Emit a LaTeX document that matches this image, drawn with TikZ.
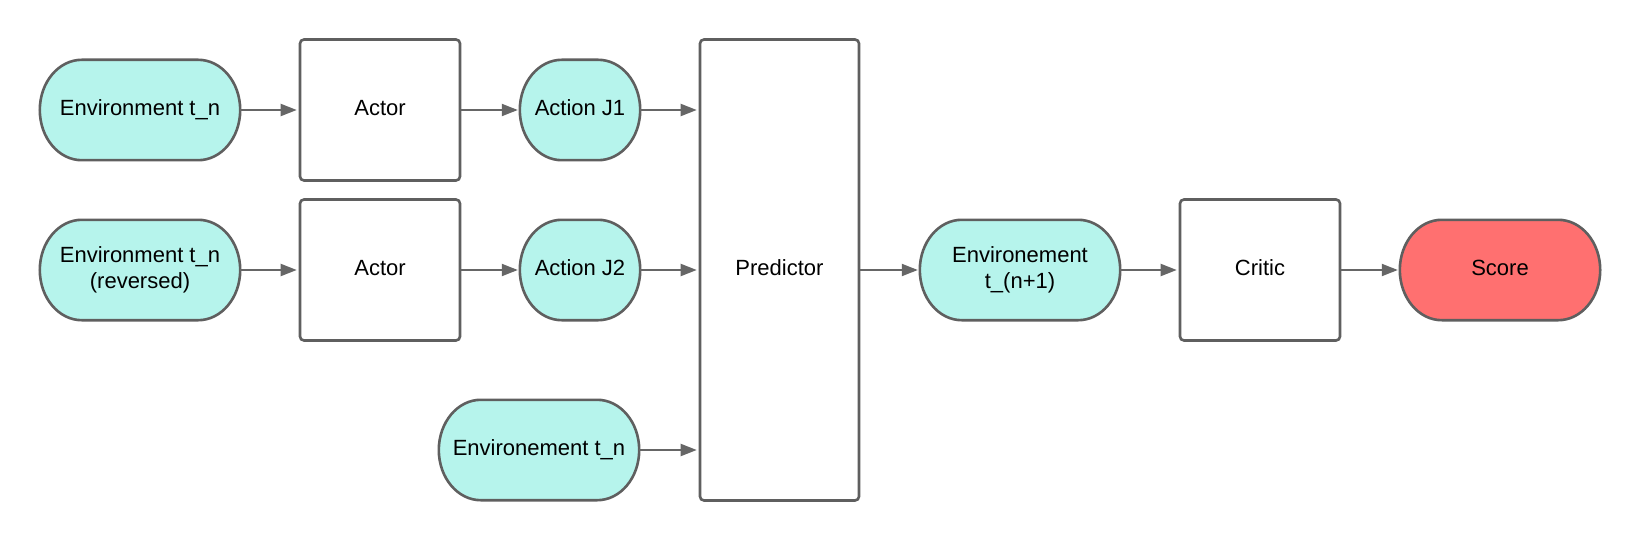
\documentclass[tikz,border=0pt]{standalone}
\usepackage{fontspec}
\setmainfont{Liberation Sans}
\usetikzlibrary{arrows.meta,calc,backgrounds}
\definecolor{envteal}{HTML}{B6F4EC}
\definecolor{scorered}{HTML}{FF7070}
\definecolor{edgegray}{HTML}{5F5F5F}
\definecolor{arrowgray}{HTML}{666666}
\tikzset{
  txt/.style={font=\fontsize{22}{26.5}\selectfont, align=center, inner sep=0pt},
  oneline/.style={text height=16pt, text depth=5.6pt},
  stadium/.style={txt, minimum width=200pt, minimum height=100pt},
  smallstadium/.style={txt, minimum width=120pt, minimum height=100pt},
  boxnode/.style={txt, draw=edgegray, line width=2.6pt, rounded corners=4pt, fill=white},
  stadiumline/.style={draw=edgegray, line width=2.6pt},
  conn/.style={draw=arrowgray, line width=2pt, -{Triangle[length=16pt,width=12pt]}, shorten >=2pt}
}
\newcommand\stadiumoutline[2]{%
  \path[stadiumline, fill=#2] let \p1=(#1.north west), \p2=(#1.south east), \n1={abs(\y1-\y2)/2} in
    (\x1+42pt,\y1) -- (\x2-42pt,\y1)
    arc[start angle=90, end angle=-90, x radius=42pt, y radius=\n1]
    -- (\x1+42pt,\y2)
    arc[start angle=270, end angle=90, x radius=42pt, y radius=\n1] -- cycle;}
\begin{document}
\begin{tikzpicture}[x=1pt,y=-1pt]
\useasboundingbox (0,0) rectangle (1640,540);
% nodes
\node[stadium, oneline] (env1) at (140,110) {Environment t\_n};
\node[boxnode, oneline, minimum width=160pt, minimum height=141pt] (actor1) at (380,110) {Actor};
\node[smallstadium, oneline] (act1) at (580,110) {Action J1};
\node[stadium] (env2) at (140,270) {Environment t\_n\\(reversed)};
\node[boxnode, oneline, minimum width=160pt, minimum height=141pt] (actor2) at (380,270) {Actor};
\node[smallstadium, oneline] (act2) at (580,270) {Action J2};
\node[stadium, oneline] (env3) at (539,450) {Environement t\_n};
\node[boxnode, oneline, minimum width=159pt, minimum height=461pt] (pred) at (779.5,270) {Predictor};
\node[stadium] (env4) at (1020,270) {Environement\\t\_(n+1)};
\node[boxnode, oneline, minimum width=160pt, minimum height=141pt] (critic) at (1260,270) {Critic};
\node[stadium, oneline] (score) at (1500,270) {Score};
% outlines of the rounded terminals
\begin{scope}[on background layer]
  \fill[white] (0,0) rectangle (1640,540);
  \stadiumoutline{env1}{envteal}
  \stadiumoutline{act1}{envteal}
  \stadiumoutline{env2}{envteal}
  \stadiumoutline{act2}{envteal}
  \stadiumoutline{env3}{envteal}
  \stadiumoutline{env4}{envteal}
  \stadiumoutline{score}{scorered}
\end{scope}
% connectors
\draw[conn] (env1.east) -- (actor1.west);
\draw[conn] (actor1.east) -- (act1.west);
\draw[conn] (act1.east) -- (act1.east -| pred.west);
\draw[conn] (env2.east) -- (actor2.west);
\draw[conn] (actor2.east) -- (act2.west);
\draw[conn] (act2.east) -- (act2.east -| pred.west);
\draw[conn] (env3.east) -- (env3.east -| pred.west);
\draw[conn] (pred.east) -- (env4.west);
\draw[conn] (env4.east) -- (critic.west);
\draw[conn] (critic.east) -- (score.west);
\end{tikzpicture}
\end{document}
